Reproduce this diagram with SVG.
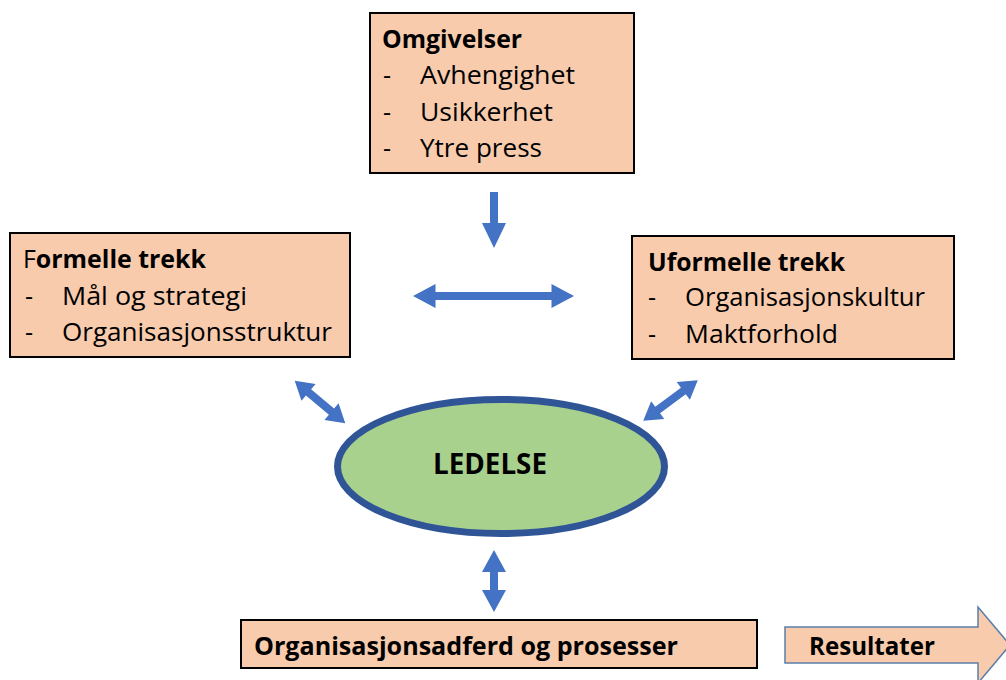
<svg xmlns="http://www.w3.org/2000/svg" width="1006" height="680" viewBox="0 0 1006 680">
<style>
.box{fill:#F8CBAD;stroke:#000;stroke-width:2}
.t{font-family:"Open Sans","Liberation Sans",sans-serif;font-size:25px;fill:#000}
.b{font-weight:bold}
.big{font-size:29px}
.arr{fill:#4472C4}
</style>
<rect width="1006" height="680" fill="#fff"/>
<g id="omgivelser">
<rect class="box" x="370" y="13" width="264" height="160"/>
<text class="t b" x="382" y="48" textLength="140" lengthAdjust="spacingAndGlyphs">Omgivelser</text>
<text class="t" x="383" y="84">-</text><text class="t" x="420" y="84" textLength="155" lengthAdjust="spacingAndGlyphs">Avhengighet</text>
<text class="t" x="383" y="121">-</text><text class="t" x="420" y="121" textLength="133" lengthAdjust="spacingAndGlyphs">Usikkerhet</text>
<text class="t" x="383" y="157">-</text><text class="t" x="420" y="157" textLength="122" lengthAdjust="spacingAndGlyphs">Ytre press</text>
</g>
<g id="formelle">
<rect class="box" x="10" y="233" width="340" height="124"/>
<text class="t b" x="23" y="268" textLength="183" lengthAdjust="spacingAndGlyphs"><tspan font-weight="normal">F</tspan>ormelle trekk</text>
<text class="t" x="25" y="305">-</text><text class="t" x="62" y="305" textLength="185" lengthAdjust="spacingAndGlyphs">Mål og strategi</text>
<text class="t" x="25" y="341">-</text><text class="t" x="62" y="341" textLength="270" lengthAdjust="spacingAndGlyphs">Organisasjonsstruktur</text>
</g>
<g id="uformelle">
<rect class="box" x="632" y="236" width="322" height="123"/>
<text class="t b" x="648" y="271" textLength="197" lengthAdjust="spacingAndGlyphs">Uformelle trekk</text>
<text class="t" x="648" y="306">-</text><text class="t" x="685" y="306" textLength="240" lengthAdjust="spacingAndGlyphs">Organisasjonskultur</text>
<text class="t" x="648" y="343">-</text><text class="t" x="685" y="343" textLength="153" lengthAdjust="spacingAndGlyphs">Maktforhold</text>
</g>
<g id="ledelse">
<ellipse cx="501" cy="466.5" rx="163.5" ry="67" fill="#A9D18E" stroke="#2F5597" stroke-width="7"/>
<text class="t b big" x="433" y="474" textLength="114" lengthAdjust="spacingAndGlyphs">LEDELSE</text>
</g>
<g id="adferd">
<rect class="box" x="241" y="620" width="516" height="48"/>
<text class="t b" x="254" y="655" textLength="424" lengthAdjust="spacingAndGlyphs">Organisasjonsadferd og prosesser</text>
</g>
<g id="resultater">
<polygon points="785,627 978,627 978,607 1010,645 978,683 978,663 785,663" fill="#F8CBAD" stroke="#5B7FA8" stroke-width="1.5"/>
<text class="t b" x="809" y="655" textLength="126" lengthAdjust="spacingAndGlyphs">Resultater</text>
</g>
<g id="connectors" class="arr">
<polygon points="490,192 498,192 498,223 506,223 494,248 482,223 490,223"/>
<polygon transform="translate(493.5,296)" points="-80.5,0 -58,-12 -58,-4 58,-4 58,-12 80.5,0 58,12 58,4 -58,4 -58,12"/>
<polygon transform="translate(320,402) rotate(40)" points="-33,0 -15,-11 -15,-4 15,-4 15,-11 33,0 15,11 15,4 -15,4 -15,11"/>
<polygon transform="translate(670.5,400.5) rotate(-36.7)" points="-34,0 -16,-11 -16,-4 16,-4 16,-11 34,0 16,11 16,4 -16,4 -16,11"/>
<polygon transform="translate(494,581) rotate(90)" points="-31,0 -9,-12 -9,-4 9,-4 9,-12 31,0 9,12 9,4 -9,4 -9,12"/>
</g>
</svg>
